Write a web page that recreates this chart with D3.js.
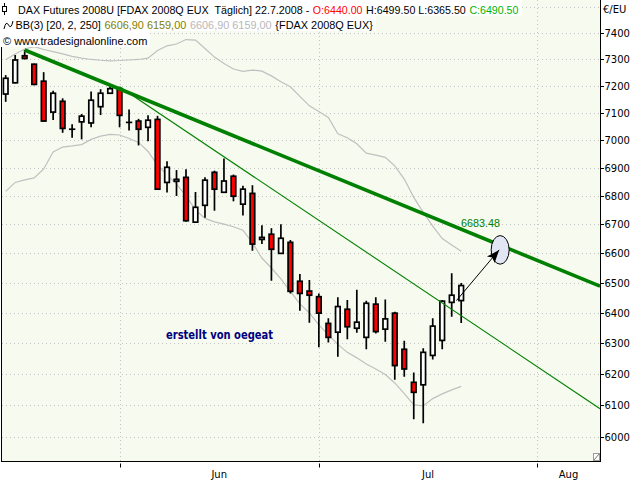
<!DOCTYPE html>
<html><head><meta charset="utf-8">
<script src="https://cdn.jsdelivr.net/npm/d3@7"></script>
<style>body{margin:0;background:#fff;} svg{display:block;} text{white-space:pre;}</style>
</head><body>
<svg id="c" width="640" height="480"></svg>
<script>
// ---------------- data ----------------
const firstTradingDay = "2008-05-15";
const open  = [7170,7212,7314,7282,7218,7103,7143,7040,7067,7063,7123,7173,7190,7065,7070,7047,7076,6848,6852,6866,6708,6767,6884,6813,6870,6771,6809,6648,6666,6600,6638,6505,6472,6453,6364,6335,6411,6348,6318,6428,6345,6398,6279,6172,6164,6259,6308,6434,6440];
const high  = [7241,7317,7336,7284,7252,7182,7154,7058,7096,7179,7188,7201,7197,7113,7078,7091,7089,6924,6892,6895,6814,6866,6890,6934,6876,6836,6838,6697,6687,6701,6646,6530,6509,6464,6381,6451,6442,6476,6439,6451,6444,6403,6307,6204,6282,6381,6442,6532,6499.5];
const low   = [7141,7210,7300,7203,7068,7074,7027,7009,7003,7047,7092,7171,7047,7035,6981,6996,6822,6812,6800,6709,6706,6723,6748,6811,6781,6731,6609,6632,6507,6598,6464,6406,6366,6286,6301,6255,6312,6333,6279,6331,6304,6180,6190,6055,6042,6246,6279,6386,6365.5];
const close = [7229,7298,7304,7206,7070,7173,7043,7040,7088,7147,7173,7190,7091,7065,7040,7073,6824,6902,6859,6713,6760,6856,6824,6853,6799,6824,6632,6655,6614,6652,6471,6464,6458,6398,6318,6420,6353,6368,6431,6337,6379,6226,6215,6140,6269,6355,6438,6458,6490.5];
const bbUpper = [7299,7321,7340,7349,7338,7330,7321,7312,7305,7300,7297,7295,7296,7298,7300,7305,7334,7352,7359,7376,7374,7342,7309,7285,7264,7255,7260,7256,7238,7216,7197,7161,7126,7105,7083,7023,7009,6987,6953,6946,6938,6907,6860,6795,6742,6694,6651,6629,6606.9];
const bbLower = [6816,6848,6857,6864,6896,6957,6975,6979,6984,7003,7015,7021,7019,7006,6992,6959,6910,6875,6842,6800,6751,6721,6709,6701,6692,6680,6636,6584,6550,6513,6471,6429,6399,6359,6326,6295,6269,6251,6231,6215,6197,6170,6136,6100,6097,6120,6135,6148,6159];
const yTickLabels = [6000,6100,6200,6300,6400,6500,6600,6700,6800,6900,7000,7100,7200,7300,7400];
const gridLevels  = [6000,6100,6200,6300,6400,6500,6600,6700,6800,6900,7000,7100,7200,7300,7400,7500];
const monthNames = ["Jan","Feb","Mär","Apr","Mai","Jun","Jul","Aug","Sep","Okt","Nov","Dez"];
// trend lines: [barIndex, price] anchors
const trendThick = [[2,7336],[48,6683.48]];
const trendThin  = [[12,7197],[23,6940]];
const arrowPts   = [[47.5,6440],[52.0,6612]];
const titleText = "DAX Futures 2008U [FDAX 2008Q EUX  Täglich] 22.7.2008 - ";
const bbLabel = "BB(3) [20, 2, 250] ";
const bbSuffix = " {FDAX 2008Q EUX}";
const copyright = "© www.tradesignalonline.com";
const authorText = "erstellt von oegeat";
const unitText = "€/EU";

// ---------------- layout ----------------
const PL = 2, PR = 600, PT = 0, PB = 461.5;
const svg = d3.select("#c");
const FONT = "'Liberation Sans', Arial, sans-serif";

const x = d3.scaleLinear().domain([0, 48]).range([5.7, 461.2]);
const y = d3.scaleLog().domain([6000, 7400]).range([436.7, 33.3]);

// trading days (weekdays) for category axis
const dates = [];
{
  const d = new Date(firstTradingDay + "T00:00:00Z");
  while (dates.length < 70) {
    const wd = d.getUTCDay();
    if (wd !== 0 && wd !== 6) dates.push(new Date(d));
    d.setUTCDate(d.getUTCDate() + 1);
  }
}

svg.append("rect").attr("width", 640).attr("height", 480).attr("fill", "#fff");
svg.append("rect").attr("x", PL).attr("y", PT).attr("width", PR - PL).attr("height", PB - PT).attr("fill", "#f6faef");

svg.append("clipPath").attr("id", "clip").append("rect")
  .attr("x", PL).attr("y", PT).attr("width", PR - PL).attr("height", PB - PT);
const plot = svg.append("g").attr("clip-path", "url(#clip)");

// month ticks
const monthTicks = [];
for (let i = 1; i < dates.length; i++) {
  if (dates[i].getUTCMonth() !== dates[i - 1].getUTCMonth() && x(i) < PR) monthTicks.push(i);
}

// grid
plot.selectAll(".hg").data(gridLevels).join("line")
  .attr("x1", PL).attr("x2", PR).attr("y1", d => Math.round(y(d)) + 0.5).attr("y2", d => Math.round(y(d)) + 0.5)
  .attr("stroke", "#c4c4c4").attr("stroke-width", 1).attr("stroke-dasharray", "1,3");
plot.selectAll(".vg").data(monthTicks).join("line")
  .attr("x1", d => Math.round(x(d)) + 0.5).attr("x2", d => Math.round(x(d)) + 0.5).attr("y1", PT).attr("y2", PB)
  .attr("stroke", "#c4c4c4").attr("stroke-width", 1).attr("stroke-dasharray", "1,3");

// Bollinger bands
const bandLine = d3.line().x((d, i) => x(i)).y(d => y(d));
[bbUpper, bbLower].forEach(s => {
  plot.append("path").attr("d", bandLine(s)).attr("fill", "none").attr("stroke", "#c0c0c0").attr("stroke-width", 1.2);
});

// candles
const idx = d3.range(open.length);
const cg = plot.append("g");
idx.forEach(i => {
  const cx = x(i);
  cg.append("line").attr("x1", cx).attr("x2", cx).attr("y1", y(high[i])).attr("y2", y(low[i]))
    .attr("stroke", "#000").attr("stroke-width", 1.7);
  if (open[i] === close[i]) {
    cg.append("line").attr("x1", cx - 3.2).attr("x2", cx + 3.2).attr("y1", y(open[i])).attr("y2", y(open[i]))
      .attr("stroke", "#000").attr("stroke-width", 1.7);
  } else {
    const top = y(Math.max(open[i], close[i])), bot = y(Math.min(open[i], close[i]));
    cg.append("rect").attr("x", cx - 2.3).attr("width", 4.6).attr("y", top).attr("height", Math.max(1, bot - top))
      .attr("fill", close[i] > open[i] ? "#ffffff" : "#ff0000").attr("stroke", "#000").attr("stroke-width", 1.7);
  }
});

// trend lines (straight in screen space, extended to right edge)
function trend(pts, w) {
  const x0 = x(pts[0][0]), y0 = y(pts[0][1]), x1 = x(pts[1][0]), y1 = y(pts[1][1]);
  const m = (y1 - y0) / (x1 - x0);
  plot.append("line").attr("x1", x0).attr("y1", y0).attr("x2", PR).attr("y2", y0 + m * (PR - x0))
    .attr("stroke", "#008000").attr("stroke-width", w);
}
trend(trendThin, 1.1);
trend(trendThick, 3.6);

plot.append("text").attr("x", 461).attr("y", 227).attr("font-family", FONT).attr("font-size", 11)
  .attr("fill", "#008000").attr("textLength", 39).attr("lengthAdjust", "spacingAndGlyphs")
  .text(trendThick[1][1].toFixed(2));

// annotation: ellipse + arrow
const ax0 = x(arrowPts[0][0]), ay0 = y(arrowPts[0][1]), ax1 = x(arrowPts[1][0]), ay1 = y(arrowPts[1][1]);
plot.append("ellipse").attr("cx", ax1 + 1).attr("cy", ay1).attr("rx", 9).attr("ry", 14.3)
  .attr("fill", "#e2e6f4").attr("stroke", "#000").attr("stroke-width", 1);
plot.append("line").attr("x1", ax0).attr("y1", ay0).attr("x2", ax1).attr("y2", ay1).attr("stroke", "#000").attr("stroke-width", 1);
{
  const ang = Math.atan2(ay1 - ay0, ax1 - ax0), L = 13, hw = 5;
  const bx = ax1 - L * Math.cos(ang), by = ay1 - L * Math.sin(ang);
  const px = -Math.sin(ang), py = Math.cos(ang);
  plot.append("path").attr("d", `M${ax1},${ay1}L${bx + hw * px},${by + hw * py}L${bx + 3 * Math.cos(ang)},${by + 3 * Math.sin(ang)}L${bx - hw * px},${by - hw * py}Z`)
    .attr("fill", "#000");
}

// author text
plot.append("text").attr("x", 166).attr("y", 339).attr("font-family", "'DejaVu Sans', Verdana, sans-serif")
  .attr("font-size", 11.5).attr("font-weight", "bold").attr("fill", "#000080")
  .attr("textLength", 107).attr("lengthAdjust", "spacingAndGlyphs").text(authorText);

// frame
svg.append("line").attr("x1", PL - 0.5).attr("x2", PL - 0.5).attr("y1", 0).attr("y2", PB).attr("stroke", "#000");
svg.append("line").attr("x1", PR + 0.5).attr("x2", PR + 0.5).attr("y1", 0).attr("y2", PB + 0.5).attr("stroke", "#000");
svg.append("line").attr("x1", PL - 1).attr("x2", PR + 1).attr("y1", PB).attr("y2", PB).attr("stroke", "#000");
// resize grip
svg.append("rect").attr("x", 593.5).attr("y", 453.5).attr("width", 6).attr("height", 7).attr("fill", "#fff").attr("stroke", "#999");
svg.append("line").attr("x1", 594).attr("y1", 460).attr("x2", 599).attr("y2", 454).attr("stroke", "#777");

// right axis
const ra = svg.append("g");
ra.selectAll("line").data(yTickLabels).join("line")
  .attr("x1", 601).attr("x2", 604).attr("y1", d => Math.round(y(d)) + 0.5).attr("y2", d => Math.round(y(d)) + 0.5).attr("stroke", "#000");
ra.selectAll("text").data(yTickLabels).join("text")
  .attr("x", 604.5).attr("y", d => y(d) + 4).attr("font-family", "'DejaVu Sans', sans-serif").attr("font-size", 10)
  .attr("fill", "#000").text(d => d);
svg.append("text").attr("x", 603).attr("y", 13).attr("font-family", "'DejaVu Sans', sans-serif").attr("font-size", 10).text(unitText);

// bottom axis
svg.selectAll(".mt").data(monthTicks).join("line")
  .attr("x1", d => Math.round(x(d)) + 0.5).attr("x2", d => Math.round(x(d)) + 0.5).attr("y1", PB + 2).attr("y2", PB + 6).attr("stroke", "#000");
monthTicks.forEach((t, k) => {
  const xa = x(t), xb = k + 1 < monthTicks.length ? x(monthTicks[k + 1]) : PR;
  svg.append("text").attr("x", (xa + xb) / 2).attr("y", 478).attr("text-anchor", "middle")
    .attr("font-family", "'DejaVu Sans', sans-serif").attr("font-size", 10).text(monthNames[dates[t].getUTCMonth()]);
});

// header
const last = open.length - 1;
const fmtC = v => v.toFixed(2).replace(".", ",");
const hdr = svg.append("g");
hdr.append("rect").attr("x", 0).attr("y", 0).attr("width", 522).attr("height", 16).attr("fill", "#fff");
hdr.append("rect").attr("x", 0).attr("y", 16).attr("width", 376).attr("height", 15).attr("fill", "#fff");
hdr.append("rect").attr("x", 0).attr("y", 31).attr("width", 150).attr("height", 16).attr("fill", "#fff");
// candle icon
hdr.append("line").attr("x1", 4.5).attr("x2", 4.5).attr("y1", 3).attr("y2", 15).attr("stroke", "#000");
hdr.append("rect").attr("x", 2.5).attr("y", 6.5).attr("width", 4).attr("height", 5).attr("fill", "#fff").attr("stroke", "#000");
// wave icon
hdr.append("path").attr("d", "M4,29 Q6,20 8.5,25 Q11,30 13,21").attr("fill", "none").attr("stroke", "#000").attr("stroke-width", 1);

// segmented header lines: each segment its own (trimmed) text, scaled to fit target width
function measure(str) {
  const t = hdr.append("text").attr("font-family", FONT).attr("font-size", 11).text(str);
  const w = t.node().getComputedTextLength(); t.remove(); return w;
}
function segLine(segs, x0, yb, targetW) {
  const spaceW = measure("x x") - measure("xx");
  const info = segs.map(s => {
    const lead = s[0].length - s[0].trimStart().length;
    const trail = s[0].length - s[0].trimEnd().length;
    const core = s[0].trim();
    return { core, color: s[1], lead, trail, w: measure(core) };
  });
  const total = d3.sum(info, d => d.w + (d.lead + d.trail) * spaceW);
  const k = targetW / total;
  let cx = x0;
  info.forEach(d => {
    cx += d.lead * spaceW * k;
    const w = d.w * k;
    hdr.append("text").attr("x", cx).attr("y", yb).attr("font-family", FONT).attr("font-size", 11)
      .attr("fill", d.color).attr("textLength", w - 0.6).attr("lengthAdjust", "spacingAndGlyphs").text(d.core);
    cx += w + d.trail * spaceW * k;
  });
}
segLine([[titleText, "#000"], ["O:" + open[last].toFixed(2), "#ff0000"],
 [" H:" + high[last].toFixed(2) + " L:" + low[last].toFixed(2) + " ", "#000"], ["C:" + close[last].toFixed(2), "#00b400"]], 18, 14, 501);
segLine([[bbLabel, "#000"], [fmtC(bbUpper[last]) + " " + fmtC(bbLower[last]) + " ", "#808000"],
 [fmtC(bbUpper[last]) + " " + fmtC(bbLower[last]), "#b8b8b8"], [bbSuffix, "#000"]], 15.5, 29, 358);
segLine([[copyright, "#000"]], 3, 44.5, 145);
</script>
</body></html>
